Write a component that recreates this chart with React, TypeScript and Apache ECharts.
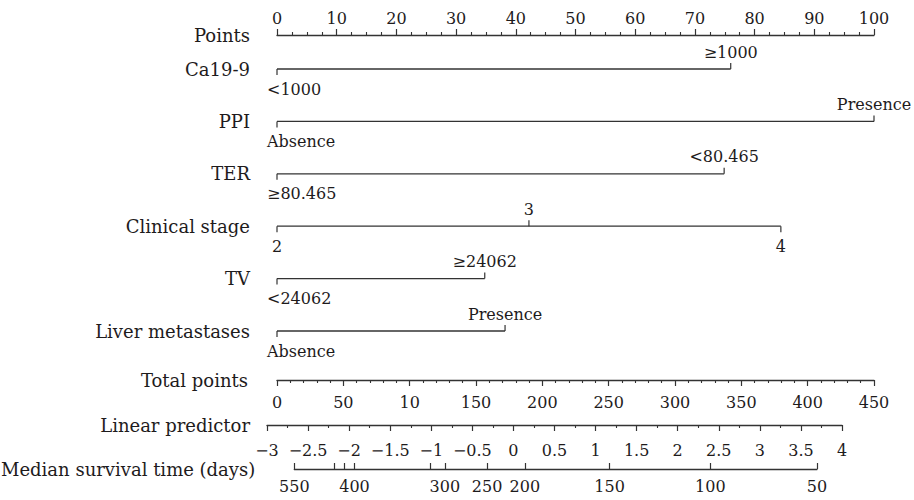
import React, { useEffect, useRef } from "react";
import * as echarts from "echarts";

// ---- data ----
const variableNames = ["Ca19-9", "PPI", "TER", "Clinical stage", "TV", "Liver metastases"];
const levelLabels = [
  ["<1000", "≥1000"],
  ["Absence", "Presence"],
  ["≥80.465", "<80.465"],
  ["2", "3", "4"],
  ["<24062", "≥24062"],
  ["Absence", "Presence"],
];
const levelPoints = [
  [0, 76.0],
  [0, 100],
  [0, 74.9],
  [0, 42.2, 84.4],
  [0, 34.8],
  [0, 38.2],
];
const pointsMin = 0;
const pointsMax = 100;
const totalPointValues = [0, 50, 100, 150, 200, 250, 300, 350, 400, 450];
const totalPointLabels = ["0", "50", "10", "150", "200", "250", "300", "350", "400", "450"];
const lpMin = -3;
const lpMax = 4;
const survivalTimes = [550, 500, 450, 400, 350, 300, 250, 200, 150, 100, 50];
const survivalTickLP = [-2.724, -2.228, -2.106, -1.985, -1.059, -0.877, -0.358, 0.104, 1.144, 2.381, 3.689];
const survivalLabeled = [550, 400, 300, 250, 200, 150, 100, 50];

// ---- style ----
const FONT = "DejaVu Serif";
const INK = "#1e1b1c";
const LINE = "#333333";
const PX_LEFT = 277;
const PX_WIDTH = 597;
const LABEL_SIZE = 16;
const NAME_SIZE = 18;

export default function App() {
  const ref = useRef<HTMLDivElement>(null);
  useEffect(() => {
    if (!ref.current) return;
    const chart = echarts.init(ref.current, null, { renderer: "svg" });

    const axisLine = { show: true, lineStyle: { color: LINE, width: 1.3 } };
    const tick = { show: true, length: 6, lineStyle: { color: LINE, width: 1.2 } };
    const minor = { show: true, length: 3, lineStyle: { color: LINE, width: 1.1 } };
    const lab = { color: INK, fontSize: LABEL_SIZE, fontFamily: FONT };
    const nameStyle = { color: INK, fontSize: NAME_SIZE, fontFamily: FONT };

    const survLabelLP = survivalLabeled.map((t) => survivalTickLP[survivalTimes.indexOf(t)]);

    const option: any = {
      animation: false,
      grid: [
        { left: PX_LEFT, width: PX_WIDTH, top: 35, height: 0 },
        { left: PX_LEFT, width: PX_WIDTH, top: 69, height: 262 },
        { left: PX_LEFT, width: PX_WIDTH, top: 380, height: 0 },
        { left: 267, width: 575, top: 425, height: 0 },
        { left: 290, width: 527, top: 469, height: 0 },
      ],
      xAxis: [
        {
          gridIndex: 0, type: "value", position: "top", min: pointsMin, max: pointsMax, interval: 10,
          axisLine, axisTick: tick, minorTick: { ...minor, splitNumber: 4 }, splitLine: { show: false },
          axisLabel: { ...lab, margin: 9 },
          name: "Points", nameLocation: "start", nameGap: 27, nameTextStyle: { ...nameStyle, verticalAlign: "middle", padding: [6, 0, 0, 0] },
        },
        { gridIndex: 1, type: "value", min: pointsMin, max: pointsMax, show: false },
        {
          gridIndex: 2, type: "value", min: 0, max: 450, interval: 50,
          axisLine, axisTick: tick, minorTick: { ...minor, splitNumber: 5 }, splitLine: { show: false },
          axisLabel: { ...lab, margin: 14, formatter: (v: number) => totalPointLabels[totalPointValues.indexOf(v)] ?? "" },
          name: "Total points", nameLocation: "start", nameGap: 29, nameTextStyle: nameStyle,
        },
        {
          gridIndex: 3, type: "value", min: lpMin, max: lpMax, interval: 0.5,
          axisLine, axisTick: tick, minorTick: { ...minor, splitNumber: 2 }, splitLine: { show: false },
          axisLabel: { ...lab, margin: 17, formatter: (v: number) => String(v).replace("-", "\u2212") },
          name: "Linear predictor", nameLocation: "start", nameGap: 17, nameTextStyle: nameStyle,
        },
        {
          gridIndex: 4, type: "value", min: survivalTickLP[0], max: survivalTickLP[survivalTickLP.length - 1],
          axisLine, splitLine: { show: false },
          axisTick: { ...tick, inside: true, customValues: survivalTickLP },
          axisLabel: {
            ...lab, margin: 9, customValues: survLabelLP,
            formatter: (v: number) => {
              let best = 0;
              survivalTickLP.forEach((x, i) => { if (Math.abs(x - v) < Math.abs(survivalTickLP[best] - v)) best = i; });
              return String(survivalTimes[best]);
            },
          },
          name: "Median survival time (days)", nameLocation: "start", nameGap: 39, nameTextStyle: nameStyle,
        },
      ],
      yAxis: [
        { gridIndex: 0, type: "value", show: false },
        {
          gridIndex: 1, type: "category", data: variableNames, inverse: true, boundaryGap: false,
          axisLine: { show: false }, axisTick: { show: false }, splitLine: { show: false },
          axisLabel: { ...nameStyle, margin: 27, padding: [4, 0, 0, 0] },
        },
        { gridIndex: 2, type: "value", show: false },
        { gridIndex: 3, type: "value", show: false },
        { gridIndex: 4, type: "value", show: false },
      ],
      series: [
        {
          type: "custom",
          xAxisIndex: 1,
          yAxisIndex: 1,
          data: variableNames.map((_, i) => [levelPoints[i][levelPoints[i].length - 1], i]),
          renderItem: (params: any, api: any) => {
            const i = params.dataIndex;
            const pts = levelPoints[i];
            const labels = levelLabels[i];
            const start = api.coord([pts[0], i]);
            const end = api.coord([pts[pts.length - 1], i]);
            const y = start[1];
            const children: any[] = [
              { type: "line", shape: { x1: start[0], y1: y, x2: end[0], y2: y }, style: { stroke: LINE, lineWidth: 1.3 } },
            ];
            pts.forEach((p, k) => {
              const x = api.coord([p, i])[0];
              const dir = k % 2 === 0 ? 1 : -1;
              children.push({ type: "line", shape: { x1: x, y1: y, x2: x, y2: y + dir * 6 }, style: { stroke: LINE, lineWidth: 1.2 } });
              const isFirst = k === 0 && labels[k].length > 1;
              children.push({
                type: "text",
                x: isFirst ? x - 10 : x,
                y: y + dir * (dir > 0 ? 20 : 17),
                style: {
                  text: labels[k], fill: INK, fontSize: LABEL_SIZE, fontFamily: FONT,
                  align: isFirst ? "left" : "center", verticalAlign: "middle",
                },
              });
            });
            return { type: "group", children };
          },
        },
      ],
    };
    chart.setOption(option);
    return () => chart.dispose();
  }, []);
  return <div ref={ref} style={{ position: "fixed", left: 0, top: 0, width: 914, height: 500, background: "#fff" }} />;
}
